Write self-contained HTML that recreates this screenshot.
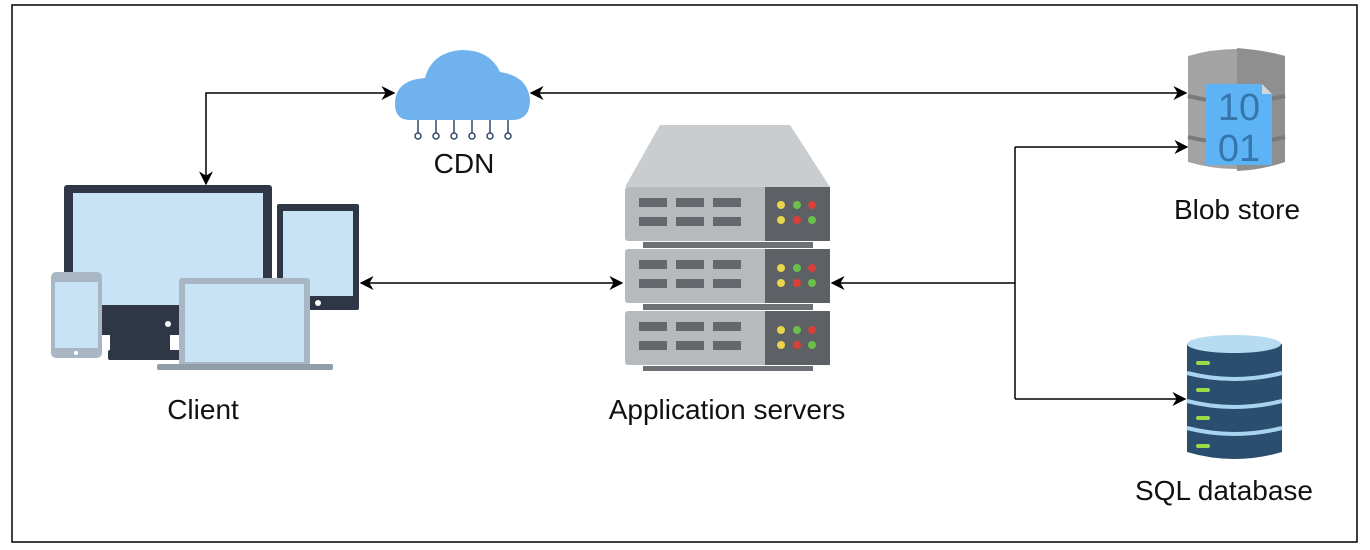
<!DOCTYPE html>
<html><head><style>
html,body{margin:0;padding:0;background:#fff;}
svg{display:block;}
text{font-family:"Liberation Sans",Arial,sans-serif;font-size:28px;fill:#111;}
</style></head><body>
<svg width="1370" height="550" viewBox="0 0 1370 550">
<defs>
<marker id="a" viewBox="0 0 10 10" refX="9" refY="5" markerWidth="14" markerHeight="14" markerUnits="userSpaceOnUse" orient="auto-start-reverse"><path d="M0,0 L10,5 L0,10 L3,5 z" fill="#000"/></marker>
</defs>
<rect x="12" y="5" width="1345" height="537" fill="none" stroke="#000" stroke-width="1.5"/>

<g stroke="#000" stroke-width="1.5" fill="none">
<path d="M206,184 V93 H394" marker-start="url(#a)" marker-end="url(#a)"/>
<path d="M531,93 H1186" marker-start="url(#a)" marker-end="url(#a)"/>
<path d="M361,283 H622" marker-start="url(#a)" marker-end="url(#a)"/>
<path d="M832,283 H1015"  marker-start="url(#a)"/>
<path d="M1015,147 V399"/>
<path d="M1015,147 H1187" marker-end="url(#a)"/>
<path d="M1015,399 H1185" marker-end="url(#a)"/>
</g>

<!-- client devices -->
<rect x="64" y="185" width="208" height="150" rx="3" fill="#2f3645"/>
<rect x="73" y="193" width="190" height="112" fill="#c8e3f6"/>
<rect x="110" y="330" width="60" height="20" fill="#2f3645"/>
<rect x="108" y="350" width="72" height="10" rx="2" fill="#2f3645"/>
<circle cx="168" cy="324" r="3" fill="#fff"/>
<rect x="277" y="204" width="82" height="106" rx="2" fill="#2f3645"/>
<rect x="283" y="211" width="70" height="85" fill="#c8e3f6"/>
<circle cx="318" cy="303" r="3" fill="#fff"/>
<rect x="51" y="272" width="51" height="86" rx="5" fill="#a9b7c4"/>
<rect x="55" y="282" width="43" height="66" fill="#c8e3f6"/>
<circle cx="76" cy="353" r="2" fill="#fff"/>
<rect x="179" y="278" width="131" height="88" rx="3" fill="#a9b7c4"/>
<rect x="185" y="284" width="119" height="78" fill="#c8e3f6"/>
<rect x="157" y="364" width="176" height="6" rx="2" fill="#8f9eab"/>

<!-- server -->
<polygon points="660,125 790,125 830,187 625,187" fill="#c9cdd0"/>
<g>
<rect x="625" y="187" width="205" height="54" rx="3" fill="#b6babd"/>
<rect x="765" y="187" width="65" height="54" fill="#5d6165"/>
<rect x="643" y="242" width="170" height="6" fill="#6d7175"/>
<rect x="625" y="249" width="205" height="54" rx="3" fill="#b6babd"/>
<rect x="765" y="249" width="65" height="54" fill="#5d6165"/>
<rect x="643" y="304" width="170" height="6" fill="#6d7175"/>
<rect x="625" y="311" width="205" height="54" rx="3" fill="#b6babd"/>
<rect x="765" y="311" width="65" height="54" fill="#5d6165"/>
<rect x="643" y="366" width="170" height="5" fill="#6d7175"/>
</g>
<g fill="#64686c">
<rect x="639" y="198" width="28" height="9"/><rect x="676" y="198" width="28" height="9"/><rect x="713" y="198" width="28" height="9"/>
<rect x="639" y="217" width="28" height="9"/><rect x="676" y="217" width="28" height="9"/><rect x="713" y="217" width="28" height="9"/>
<rect x="639" y="260" width="28" height="9"/><rect x="676" y="260" width="28" height="9"/><rect x="713" y="260" width="28" height="9"/>
<rect x="639" y="279" width="28" height="9"/><rect x="676" y="279" width="28" height="9"/><rect x="713" y="279" width="28" height="9"/>
<rect x="639" y="322" width="28" height="9"/><rect x="676" y="322" width="28" height="9"/><rect x="713" y="322" width="28" height="9"/>
<rect x="639" y="341" width="28" height="9"/><rect x="676" y="341" width="28" height="9"/><rect x="713" y="341" width="28" height="9"/>
</g>
<g>
<circle cx="781" cy="205" r="4" fill="#e8d44d"/><circle cx="797" cy="205" r="4" fill="#6cc04a"/><circle cx="812" cy="205" r="4" fill="#d9403a"/>
<circle cx="781" cy="220" r="4" fill="#e8d44d"/><circle cx="797" cy="220" r="4" fill="#d9403a"/><circle cx="812" cy="220" r="4" fill="#6cc04a"/>
<circle cx="781" cy="268" r="4" fill="#e8d44d"/><circle cx="797" cy="268" r="4" fill="#6cc04a"/><circle cx="812" cy="268" r="4" fill="#d9403a"/>
<circle cx="781" cy="283" r="4" fill="#e8d44d"/><circle cx="797" cy="283" r="4" fill="#d9403a"/><circle cx="812" cy="283" r="4" fill="#6cc04a"/>
<circle cx="781" cy="330" r="4" fill="#e8d44d"/><circle cx="797" cy="330" r="4" fill="#6cc04a"/><circle cx="812" cy="330" r="4" fill="#d9403a"/>
<circle cx="781" cy="345" r="4" fill="#e8d44d"/><circle cx="797" cy="345" r="4" fill="#d9403a"/><circle cx="812" cy="345" r="4" fill="#6cc04a"/>
</g>

<!-- cloud -->
<path d="M410,120 Q395,120 395,104 Q395,80 425,78 Q432,52 462,50 Q490,50 500,72 Q528,76 530,100 Q530,120 512,120 Z" fill="#6fb2ee"/>
<g stroke="#2f4a6b" stroke-width="1.5" fill="#fff">
<path d="M418,120 V133 M436,120 V133 M454,120 V133 M472,120 V133 M490,120 V133 M508,120 V133" fill="none"/>
<circle cx="418" cy="136" r="3"/><circle cx="436" cy="136" r="3"/><circle cx="454" cy="136" r="3"/><circle cx="472" cy="136" r="3"/><circle cx="490" cy="136" r="3"/><circle cx="508" cy="136" r="3"/>
</g>

<!-- blob store -->
<path d="M1188,56 Q1236,42 1285,56 V162 Q1236,176 1188,162 Z" fill="#a3a3a3"/>
<path d="M1237,48 Q1262,50 1285,56 V162 Q1262,170 1237,171 Z" fill="#8f8f8f"/>
<path d="M1188,96 Q1236,108 1285,96 M1188,137 Q1236,149 1285,137" stroke="#7a7a7a" stroke-width="4" fill="none"/>
<path d="M1206,84 H1262 L1272,94 V165 H1206 Z" fill="#5eb3f5"/>
<path d="M1262,84 V94 H1272 Z" fill="#cfd6dc"/>
<text x="1239" y="120" text-anchor="middle" style="font-size:38px;fill:#3576ad">10</text>
<text x="1239" y="161" text-anchor="middle" style="font-size:38px;fill:#3576ad">01</text>

<!-- SQL db -->
<path d="M1187,344 Q1234,330 1282,344 V452 Q1234,466 1187,452 Z" fill="#2b4d6e"/>
<ellipse cx="1234" cy="344" rx="47" ry="9" fill="#b7dcf2"/>
<path d="M1187,373 Q1234,385 1282,373 M1187,401 Q1234,413 1282,401 M1187,428 Q1234,440 1282,428" stroke="#a9d4ef" stroke-width="4" fill="none"/>
<g stroke="#9ad94a" stroke-width="4" stroke-linecap="round">
<path d="M1198,363 h10 M1198,390 h10 M1198,418 h10 M1198,446 h10"/>
</g>

<!-- labels -->
<text x="464" y="173" text-anchor="middle">CDN</text>
<text x="203" y="419" text-anchor="middle">Client</text>
<text x="727" y="419" text-anchor="middle">Application servers</text>
<text x="1237" y="219" text-anchor="middle">Blob store</text>
<text x="1224" y="500" text-anchor="middle">SQL database</text>
</svg>
</body></html>
